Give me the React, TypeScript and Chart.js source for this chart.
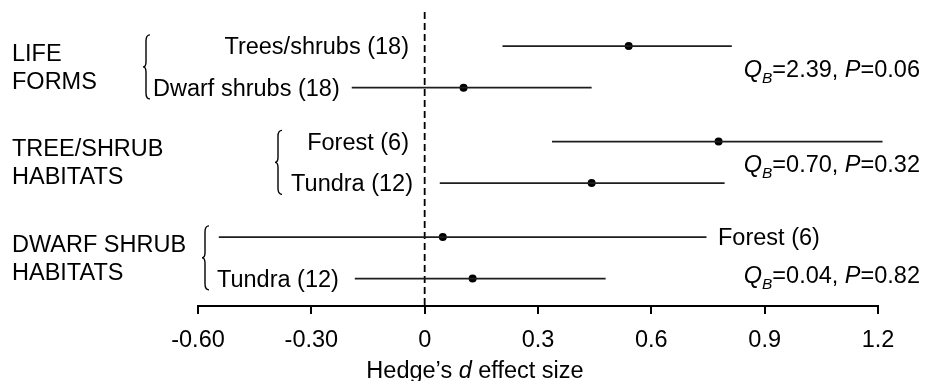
import { useEffect, useRef } from "react";
import { Chart, registerables } from "chart.js";

Chart.register(...registerables);

// ---------- data ----------
const rowLabels = ["Trees/shrubs (18)", "Dwarf shrubs (18)", "Forest (6)", "Tundra (12)", "Forest (6)", "Tundra (12)"];
const effectSizes = [0.54, 0.103, 0.778, 0.442, 0.048, 0.127];
const lowerCI = [0.206, -0.193, 0.337, 0.04, -0.545, -0.185];
const upperCI = [0.813, 0.442, 1.212, 0.794, 0.746, 0.479];
const groupNames = [["LIFE", "FORMS"], ["TREE/SHRUB", "HABITATS"], ["DWARF SHRUB", "HABITATS"]];
const qbValues = ["2.39", "0.70", "0.04"];
const pValues = ["0.06", "0.32", "0.82"];
const xTickValues = [-0.6, -0.3, 0, 0.3, 0.6, 0.9, 1.2];
const xTickLabels = ["-0.60", "-0.30", "0", "0.3", "0.6", "0.9", "1.2"];

// ---------- layout (positions / styles) ----------
const ROW_POS = [0, 1, 2.3, 3.3, 4.6, 5.6];
const GROUP_ROWS = [[0, 1], [2, 3], [4, 5]];
const LABEL_LAYOUT = [
  { align: "right", x: 409 },
  { align: "left", x: 153 },
  { align: "right", x: 409 },
  { align: "right", x: 413 },
  { align: "left", x: 718 },
  { align: "left", x: 217 },
];
const BRACE_X = [143, 275, 202];
const QB_POS = [0.55, 2.85, 5.52];
const FONT = "'Liberation Sans', Arial, Helvetica, sans-serif";
const FS = 23.5;
const INK = "#000";
const LINE = "#1e1e1e";

function drawBrace(ctx: CanvasRenderingContext2D, x: number, yTop: number, yBot: number) {
  const w = 7;
  const mid = (yTop + yBot) / 2;
  const xm = x + 3;
  ctx.beginPath();
  ctx.moveTo(x + w, yTop);
  ctx.quadraticCurveTo(xm, yTop, xm, yTop + 6);
  ctx.lineTo(xm, mid - 5);
  ctx.quadraticCurveTo(xm, mid, x, mid);
  ctx.quadraticCurveTo(xm, mid, xm, mid + 5);
  ctx.lineTo(xm, yBot - 6);
  ctx.quadraticCurveTo(xm, yBot, x + w, yBot);
  ctx.stroke();
}

const annotations = {
  id: "forestAnnotations",
  beforeDatasetsDraw(chart: any) {
    const { ctx, chartArea, scales } = chart;
    const x0 = scales.x.getPixelForValue(0);
    ctx.save();
    ctx.strokeStyle = INK;
    ctx.lineWidth = 1.8;
    ctx.setLineDash([7, 4]);
    ctx.beginPath();
    ctx.moveTo(x0, chartArea.top + 2);
    ctx.lineTo(x0, chartArea.bottom);
    ctx.stroke();
    ctx.restore();
  },
  afterDraw(chart: any) {
    const { ctx, scales } = chart;
    const ys = scales.y;
    ctx.save();
    ctx.fillStyle = INK;
    ctx.strokeStyle = INK;
    ctx.textBaseline = "alphabetic";
    ctx.font = `${FS}px ${FONT}`;

    // row labels
    rowLabels.forEach((t, i) => {
      const L = LABEL_LAYOUT[i];
      ctx.textAlign = L.align as CanvasTextAlign;
      ctx.fillText(t, L.x, ys.getPixelForValue(ROW_POS[i]) + 8);
    });

    // group labels + braces
    GROUP_ROWS.forEach((rows, g) => {
      const a = ys.getPixelForValue(ROW_POS[rows[0]]);
      const b = ys.getPixelForValue(ROW_POS[rows[1]]);
      const c = (a + b) / 2;
      ctx.textAlign = "left";
      ctx.fillText(groupNames[g][0], 12, c - 14 + 8);
      ctx.fillText(groupNames[g][1], 12, c + 14 + 8);
      ctx.lineWidth = 1.4;
      drawBrace(ctx, BRACE_X[g], c - 32, c + 32);
    });

    // Q_B annotations
    const right = 920;
    qbValues.forEach((q, g) => {
      const y = ys.getPixelForValue(QB_POS[g]) + 8;
      const parts = [
        { t: "Q", f: `italic ${FS}px ${FONT}`, dy: 0 },
        { t: "B", f: `italic 15.5px ${FONT}`, dy: 6 },
        { t: `=${q}, `, f: `${FS}px ${FONT}`, dy: 0 },
        { t: "P", f: `italic ${FS}px ${FONT}`, dy: 0 },
        { t: `=${pValues[g]}`, f: `${FS}px ${FONT}`, dy: 0 },
      ];
      let total = 0;
      const widths = parts.map((p) => {
        ctx.font = p.f;
        const w = ctx.measureText(p.t).width;
        total += w;
        return w;
      });
      let x = right - total;
      ctx.textAlign = "left";
      parts.forEach((p, i) => {
        ctx.font = p.f;
        ctx.fillText(p.t, x, y + p.dy);
        x += widths[i];
      });
    });

    // axis title
    const tparts = [
      { t: "Hedge\u2019s ", f: `${FS}px ${FONT}` },
      { t: "d", f: `italic ${FS}px ${FONT}` },
      { t: " effect size", f: `${FS}px ${FONT}` },
    ];
    let tw = 0;
    const tws = tparts.map((p) => {
      ctx.font = p.f;
      const w = ctx.measureText(p.t).width;
      tw += w;
      return w;
    });
    let tx = 475 - tw / 2;
    tparts.forEach((p, i) => {
      ctx.font = p.f;
      ctx.fillText(p.t, tx, 378);
      tx += tws[i];
    });
    ctx.restore();
  },
};

export default function App() {
  const ref = useRef<HTMLCanvasElement>(null);
  useEffect(() => {
    if (!ref.current) return;
    const ciSets = rowLabels.map((_, i) => ({
      type: "scatter" as const,
      data: [
        { x: lowerCI[i], y: ROW_POS[i] },
        { x: upperCI[i], y: ROW_POS[i] },
      ],
      showLine: true,
      borderColor: LINE,
      borderWidth: 1.6,
      pointRadius: 0,
      clip: false as any,
    }));
    const chart = new Chart(ref.current, {
      type: "scatter",
      data: {
        datasets: [
          ...ciSets,
          {
            data: effectSizes.map((v, i) => ({ x: v, y: ROW_POS[i] })),
            pointRadius: 4,
            pointBackgroundColor: INK,
            pointBorderColor: INK,
            pointBorderWidth: 0,
            clip: false as any,
          },
        ],
      },
      options: {
        animation: false,
        responsive: true,
        maintainAspectRatio: false,
        layout: { padding: { left: 198, right: 60, top: 10, bottom: 0 } },
        plugins: { legend: { display: false }, tooltip: { enabled: false } },
        scales: {
          x: {
            type: "linear",
            min: -0.6,
            max: 1.2,
            afterBuildTicks: (s: any) => {
              s.ticks = xTickValues.map((v) => ({ value: v }));
            },
            afterFit: (s: any) => {
              s.height = 75;
            },
            ticks: {
              autoSkip: false,
              maxRotation: 0,
              padding: 12,
              color: INK,
              font: { family: FONT, size: FS },
              callback: (_v: any, i: number) => xTickLabels[i],
            },
            grid: { drawOnChartArea: false, drawTicks: true, tickLength: 8, color: INK, lineWidth: 2 },
            border: { display: true, color: INK, width: 2 },
          },
          y: { type: "linear", display: false, min: -0.87, max: 6.26, reverse: true },
        },
      },
      plugins: [annotations],
    });
    return () => chart.destroy();
  }, []);
  return (
    <div style={{ position: "absolute", left: 0, top: 0, width: 938, height: 381, background: "#fff" }}>
      <canvas ref={ref} />
    </div>
  );
}
